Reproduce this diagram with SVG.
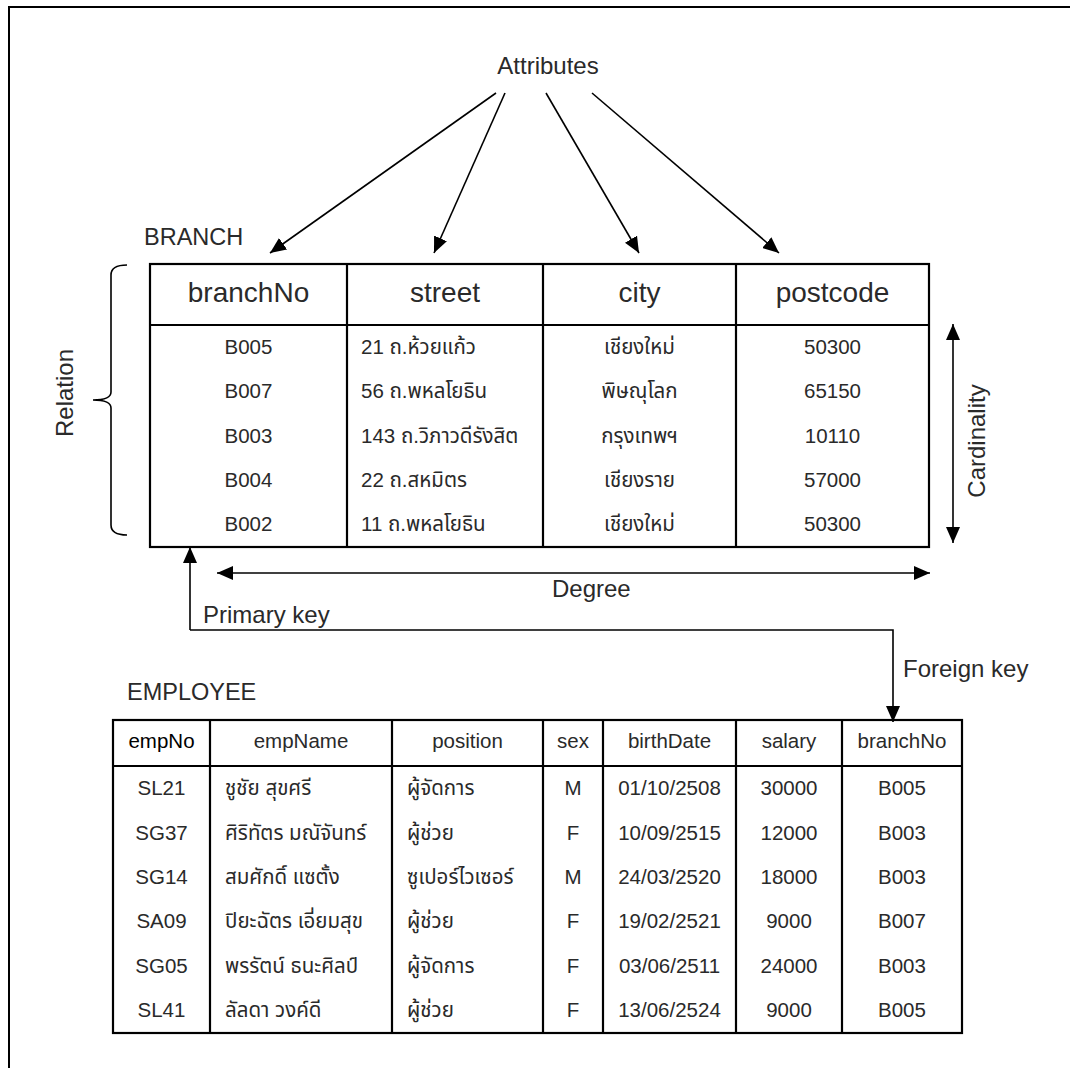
<svg xmlns="http://www.w3.org/2000/svg" width="1070" height="1068" viewBox="0 0 1070 1068">
  <style>
    text { font-family: "Liberation Sans", "Noto Sans", "Noto Sans Thai", "DejaVu Sans", sans-serif; fill: #2a2a2a; }
    .lbl { font-size: 24px; }
    .title { font-size: 23.5px; }
    .hdr { font-size: 28px; text-anchor: middle; }
    .cell { font-size: 20.5px; }
    .c { text-anchor: middle; }
    .ehdr { font-size: 20.5px; text-anchor: middle; }
    .grid { fill: none; stroke: #000; stroke-width: 2.2; }
    .conn { fill: none; stroke: #000; stroke-width: 1.6; }
  </style>
  <defs>
    <marker id="head" viewBox="0 0 16 14" refX="16" refY="7" markerWidth="16" markerHeight="14" markerUnits="userSpaceOnUse" orient="auto-start-reverse">
      <path d="M0,0 L16,7 L0,14 Z" fill="#000"/>
    </marker>
  </defs>

  <rect width="1070" height="1068" fill="#fff"/>

  <!-- page frame (top and left edges) -->
  <path d="M1070,7 H9 V1068" fill="none" stroke="#000" stroke-width="2"/>

  <!-- free-standing labels -->
  <g id="attributes-label">
    <text class="lbl" x="548" y="74" text-anchor="middle">Attributes</text>
  </g>
  <g id="relation-label">
    <path class="conn" d="M127,265 Q111,265 111,275 V392 Q111,400 93,400 Q111,400 111,408 V525 Q111,535 127,535"/>
    <text class="lbl" transform="translate(73,393) rotate(-90)" text-anchor="middle">Relation</text>
  </g>
  <g id="cardinality-label">
    <text class="lbl" transform="translate(985,441) rotate(-90)" text-anchor="middle">Cardinality</text>
  </g>
  <g id="degree-label">
    <text class="lbl" x="552" y="597">Degree</text>
  </g>
  <g id="primary-key-label">
    <text class="lbl" x="203" y="623">Primary key</text>
  </g>
  <g id="foreign-key-label">
    <text class="lbl" x="903" y="677">Foreign key</text>
  </g>

  <!-- BRANCH relation -->
  <g id="branch">
    <text class="title" x="144" y="245">BRANCH</text>
    <rect class="grid" x="150" y="264" width="779" height="283"/>
    <path class="grid" d="M150,325 H929 M347,264 V547 M543,264 V547 M736,264 V547"/>
    <text class="hdr" x="248.5" y="302">branchNo</text>
    <text class="hdr" x="445" y="302">street</text>
    <text class="hdr" x="639.5" y="302">city</text>
    <text class="hdr" x="832.5" y="302">postcode</text>

    <g class="cell">
      <text class="c" x="248.5" y="354">B005</text>
      <text x="361" y="354">21 ถ.ห้วยแก้ว</text>
      <text class="c" x="639.5" y="354">เชียงใหม่</text>
      <text class="c" x="832.5" y="354">50300</text>

      <text class="c" x="248.5" y="398">B007</text>
      <text x="361" y="398">56 ถ.พหลโยธิน</text>
      <text class="c" x="639.5" y="398">พิษณุโลก</text>
      <text class="c" x="832.5" y="398">65150</text>

      <text class="c" x="248.5" y="443">B003</text>
      <text x="361" y="443">143 ถ.วิภาวดีรังสิต</text>
      <text class="c" x="639.5" y="443">กรุงเทพฯ</text>
      <text class="c" x="832.5" y="443">10110</text>

      <text class="c" x="248.5" y="487">B004</text>
      <text x="361" y="487">22 ถ.สหมิตร</text>
      <text class="c" x="639.5" y="487">เชียงราย</text>
      <text class="c" x="832.5" y="487">57000</text>

      <text class="c" x="248.5" y="531">B002</text>
      <text x="361" y="531">11 ถ.พหลโยธิน</text>
      <text class="c" x="639.5" y="531">เชียงใหม่</text>
      <text class="c" x="832.5" y="531">50300</text>
    </g>
  </g>

  <!-- EMPLOYEE relation -->
  <g id="employee">
    <text class="title" x="127" y="700">EMPLOYEE</text>
    <rect class="grid" x="113" y="720" width="849" height="313"/>
    <path class="grid" d="M113,766 H962 M210,720 V1033 M392,720 V1033 M543,720 V1033 M603,720 V1033 M736,720 V1033 M842,720 V1033"/>
    <text class="ehdr" x="161.5" y="748" style="fill:#000">empNo</text>
    <text class="ehdr" x="301" y="748">empName</text>
    <text class="ehdr" x="467.5" y="748">position</text>
    <text class="ehdr" x="573" y="748">sex</text>
    <text class="ehdr" x="669.5" y="748">birthDate</text>
    <text class="ehdr" x="789" y="748">salary</text>
    <text class="ehdr" x="902" y="748">branchNo</text>

    <g class="cell">
      <text class="c" x="161.5" y="795">SL21</text>
      <text x="225" y="795">ชูชัย สุขศรี</text>
      <text x="407" y="795">ผู้จัดการ</text>
      <text class="c" x="573" y="795">M</text>
      <text class="c" x="669.5" y="795">01/10/2508</text>
      <text class="c" x="789" y="795">30000</text>
      <text class="c" x="902" y="795">B005</text>

      <text class="c" x="161.5" y="840">SG37</text>
      <text x="225" y="840">ศิริทัตร มณัจันทร์</text>
      <text x="407" y="840">ผู้ช่วย</text>
      <text class="c" x="573" y="840">F</text>
      <text class="c" x="669.5" y="840">10/09/2515</text>
      <text class="c" x="789" y="840">12000</text>
      <text class="c" x="902" y="840">B003</text>

      <text class="c" x="161.5" y="884">SG14</text>
      <text x="225" y="884">สมศักดิ์ แซตั้ง</text>
      <text x="407" y="884">ซูเปอร์ไวเซอร์</text>
      <text class="c" x="573" y="884">M</text>
      <text class="c" x="669.5" y="884">24/03/2520</text>
      <text class="c" x="789" y="884">18000</text>
      <text class="c" x="902" y="884">B003</text>

      <text class="c" x="161.5" y="928">SA09</text>
      <text x="225" y="928">ปิยะฉัตร เอี่ยมสุข</text>
      <text x="407" y="928">ผู้ช่วย</text>
      <text class="c" x="573" y="928">F</text>
      <text class="c" x="669.5" y="928">19/02/2521</text>
      <text class="c" x="789" y="928">9000</text>
      <text class="c" x="902" y="928">B007</text>

      <text class="c" x="161.5" y="973">SG05</text>
      <text x="225" y="973">พรรัตน์ ธนะศิลป์</text>
      <text x="407" y="973">ผู้จัดการ</text>
      <text class="c" x="573" y="973">F</text>
      <text class="c" x="669.5" y="973">03/06/2511</text>
      <text class="c" x="789" y="973">24000</text>
      <text class="c" x="902" y="973">B003</text>

      <text class="c" x="161.5" y="1017">SL41</text>
      <text x="225" y="1017">ลัลดา วงค์ดี</text>
      <text x="407" y="1017">ผู้ช่วย</text>
      <text class="c" x="573" y="1017">F</text>
      <text class="c" x="669.5" y="1017">13/06/2524</text>
      <text class="c" x="789" y="1017">9000</text>
      <text class="c" x="902" y="1017">B005</text>
    </g>
  </g>

  <!-- connectors -->
  <g id="connectors" class="conn">
    <path class="conn" d="M496,93 L270,253" marker-end="url(#head)"/>
    <path class="conn" d="M505,93 L434,253" marker-end="url(#head)"/>
    <path class="conn" d="M546,93 L639,253" marker-end="url(#head)"/>
    <path class="conn" d="M592,93 L779,253" marker-end="url(#head)"/>
    <path class="conn" d="M953,324 V543" marker-start="url(#head)" marker-end="url(#head)"/>
    <path class="conn" d="M217,573 H930" marker-start="url(#head)" marker-end="url(#head)"/>
    <path class="conn" d="M190,630 V547" marker-end="url(#head)"/>
    <path class="conn" d="M190,630 H893 V722" marker-end="url(#head)"/>
  </g>
</svg>
